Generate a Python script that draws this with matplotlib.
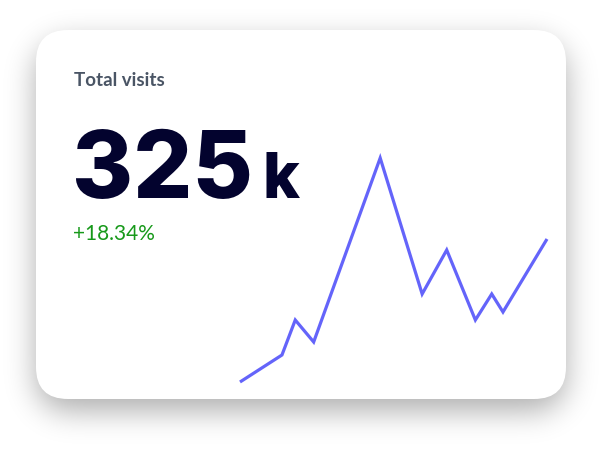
import numpy as np
import matplotlib.pyplot as plt
from matplotlib.patches import FancyBboxPatch

# sparkline data
days = [0, 4.1, 5.4, 7.2, 13.7, 17.8, 20.2, 23.0, 24.6, 25.7, 30.0]
visits = [18, 45, 80, 58, 242, 106, 150, 80, 106, 88, 161]

title = "Total visits"
big_value = "325"
big_unit = "k"
change = "+18.34%"

W, H = 610, 450
card_x0, card_y0, card_x1, card_y1 = 36, 30, 566, 399
radius = 32

fig = plt.figure(figsize=(W / 100, H / 100), dpi=100)
fig.patch.set_facecolor("white")
bg = fig.add_axes([0, 0, 1, 1])
bg.set_xlim(0, W)
bg.set_ylim(H, 0)
bg.axis("off")

# soft shadow: blurred rounded-rect mask
yy, xx = np.mgrid[0:H, 0:W] + 0.5
cx, cy = (card_x0 + card_x1) / 2, (card_y0 + card_y1) / 2 + 12
bx, by = (card_x1 - card_x0) / 2 - radius, (card_y1 - card_y0) / 2 - radius
qx = np.abs(xx - cx) - bx
qy = np.abs(yy - cy) - by
d = np.hypot(np.maximum(qx, 0), np.maximum(qy, 0)) + np.minimum(np.maximum(qx, qy), 0) - radius
mask = (d < 0).astype(float)
sigma = 15
k = np.arange(-3 * sigma, 3 * sigma + 1)
g = np.exp(-k ** 2 / (2 * sigma ** 2))
g /= g.sum()
blur = np.apply_along_axis(lambda r: np.convolve(r, g, mode="same"), 1, mask)
blur = np.apply_along_axis(lambda c: np.convolve(c, g, mode="same"), 0, blur)
shadow = np.zeros((H, W, 4))
shadow[..., 3] = blur * 0.32
bg.imshow(shadow, extent=(0, W, H, 0), interpolation="bilinear", zorder=1)

card = FancyBboxPatch((card_x0, card_y0), card_x1 - card_x0, card_y1 - card_y0,
                      boxstyle=f"round,pad=0,rounding_size={radius}",
                      facecolor="white", edgecolor="none", zorder=2)
bg.add_patch(card)

bg.text(74, 85.5, title, fontsize=13.5, fontweight="bold", color="#4a5565",
        family="Lato", va="baseline", ha="left", zorder=3)
t = bg.text(72, 198, big_value, fontsize=67, fontweight=800, color="#03032e",
            family="Inter", va="baseline", ha="left", zorder=3)
fig.canvas.draw()
bb = t.get_window_extent()
bg.text(bb.x1 + 9, 198, big_unit, fontsize=45, fontweight=800, color="#03032e",
        family="Inter", va="baseline", ha="left", zorder=3)
bg.text(73, 240.5, change, fontsize=15, color="#17991a", family="Lato",
        va="baseline", ha="left", zorder=3)

# sparkline
lx0, lx1, ly_top, ly_bot = 240, 547, 158, 382
ax = fig.add_axes([lx0 / W, (H - ly_bot) / H, (lx1 - lx0) / W, (ly_bot - ly_top) / H])
ax.plot(days, visits, color="#6464fa", linewidth=2.3, clip_on=False,
        solid_joinstyle="miter", solid_capstyle="butt")
ax.set_xlim(min(days), max(days))
ax.set_ylim(min(visits), max(visits))
ax.axis("off")

fig.savefig("out.png", dpi=100, facecolor="white")
